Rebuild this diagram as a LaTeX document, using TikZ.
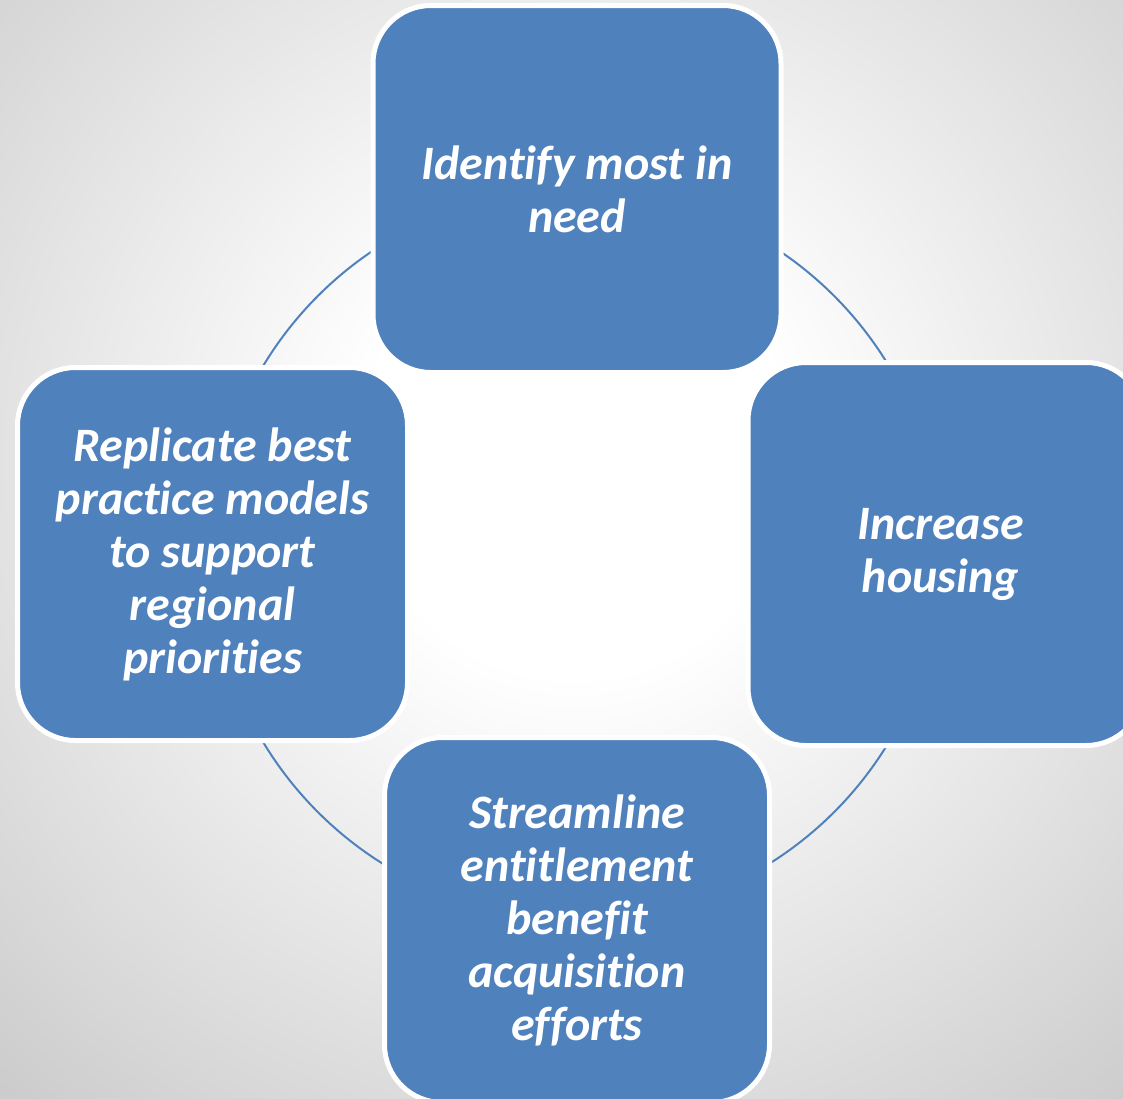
\documentclass[tikz,border=0pt]{standalone}
\usepackage{fontspec}
\setmainfont{Carlito}[Ligatures=NoCommon]
\definecolor{boxblue}{RGB}{79,129,189}
\definecolor{bggray}{RGB}{128,128,128}
\pgfdeclareradialshading{bgshade}{\pgfpoint{0bp}{0bp}}{color(0bp)=(white); color(3bp)=(white); color(25bp)=(bggray); color(50bp)=(bggray)}
\tikzset{
  cyclebox/.style={draw=white, line width=5pt, fill=boxblue, rounded corners=58pt,
    text=white, align=center, inner sep=0pt,
    font={\fontsize{48}{53}\selectfont\bfseries\itshape}},
  ring/.style={draw=boxblue, line width=2pt}
}
\begin{document}
\begin{tikzpicture}[x=1pt,y=-1pt]
\useasboundingbox (0,0) rectangle (1123,1098);
\clip (0,0) rectangle (1123,1098);
\shade[shading=bgshade] (575,460) circle (1800);
\coordinate (c) at (576,554);
\draw[ring] (c) circle (365);
\node[cyclebox, minimum width=408pt, minimum height=367pt] (top) at (577,189) {Identify most in\\need};
\node[cyclebox, minimum width=396pt, minimum height=383pt] (right) at (946,554) {\hspace*{-11pt}Increase\\\hspace*{-11pt}housing};
\node[cyclebox, minimum width=385pt, minimum height=365pt] (bottom) at (577,920) {Streamline\\entitlement\\benefit\\acquisition\\efforts};
\node[cyclebox, minimum width=390pt, minimum height=373pt] (left) at (212.5,554) {Replicate best\\practice models\\to support\\regional\\priorities};
\end{tikzpicture}
\end{document}
